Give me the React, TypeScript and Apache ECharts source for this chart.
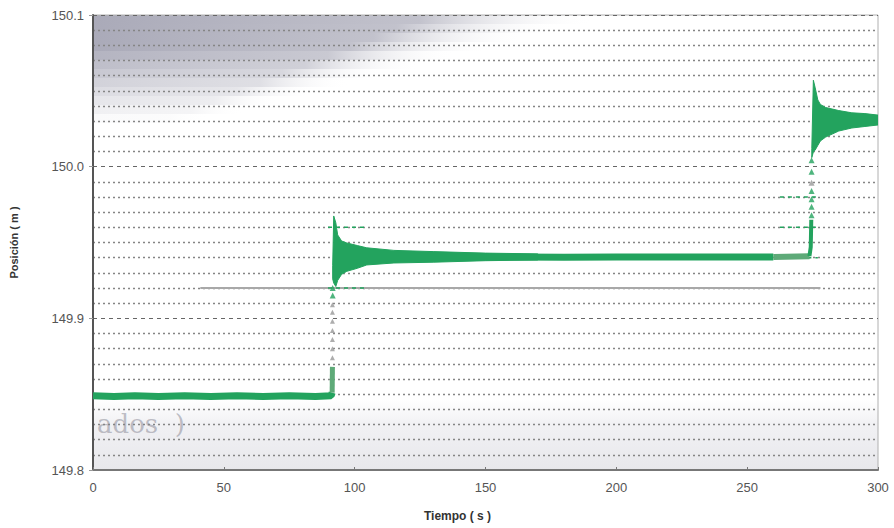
import React, { useEffect, useRef } from "react";
import * as echarts from "echarts";

// ---- data ----
const xTicks = [0, 50, 100, 150, 200, 250, 300];
const yTicks = [149.8, 149.9, 150.0, 150.1];

const level1: number[][] = [
  [0, 149.849], [8, 149.8485], [16, 149.849], [25, 149.8485], [35, 149.849], [45, 149.8485],
  [55, 149.849], [65, 149.8485], [75, 149.849], [85, 149.8485], [91, 149.849], [91.4, 149.851],
];
const rise1Solid: number[][] = [[91.4, 149.851], [91.5, 149.868]];
const rise1Dots: number[][] = [
  [91.5, 149.874], [91.5, 149.88], [91.5, 149.886], [91.5, 149.892], [91.5, 149.898], [91.5, 149.904], [91.5, 149.909],
];
const rise1Green: number[][] = [[91.6, 149.915], [91.6, 149.92]];
const band1Upper: number[][] = [
  [91.6, 149.935], [92, 149.9675], [92.8, 149.963], [93.5, 149.955], [95, 149.951], [97, 149.9497],
  [101, 149.948], [104.6, 149.9465], [115, 149.9448], [130, 149.944], [150, 149.943], [170, 149.9425],
];
const band1Lower: number[][] = [
  [91.6, 149.926], [92, 149.9233], [92.8, 149.921], [93.5, 149.925], [95, 149.929], [97, 149.931],
  [101, 149.933], [104.6, 149.9352], [115, 149.9365], [130, 149.937], [150, 149.938], [170, 149.9385],
];
const level2: number[][] = [
  [104.5, 149.9405], [120, 149.9405], [140, 149.9402], [160, 149.9405], [180, 149.9403],
  [200, 149.9405], [220, 149.9404], [240, 149.9405], [260, 149.9405],
];
const level2b: number[][] = [[260, 149.9405], [273.8, 149.941]];
const rise2Solid: number[][] = [[273.8, 149.941], [274.3, 149.947], [274.5, 149.965]];
const rise2Dots: number[][] = [
  [274.6, 149.968], [274.6, 149.9736], [274.6, 149.9785], [274.6, 149.984], [274.6, 149.9894],
  [274.6, 149.9967], [274.6, 150.0043],
];
const band2Upper: number[][] = [
  [274.7, 150.012], [275.3, 150.057], [276, 150.052], [277, 150.044], [278, 150.041], [280, 150.039],
  [285, 150.037], [290, 150.0355], [295, 150.035], [300, 150.034],
];
const band2Lower: number[][] = [
  [274.7, 150.006], [275.3, 150.0097], [276, 150.011], [277, 150.014], [278, 150.017], [280, 150.0195],
  [285, 150.0235], [290, 150.0255], [295, 150.0265], [300, 150.0275],
];
const refLine: number[][] = [[41, 149.92], [278, 149.92]];
const dashValues = [149.96, 149.92, 149.98, 149.96, 149.94];
const dashStart = [89.8, 89.8, 262.5, 262.5, 273];
const dashEnd = [105, 105, 277, 277, 277];

const GREEN = "#23a35e";
const GREEN_LIGHT = "#5eaa78";

// scan shading strips (decoration only)
const SHADE_STRIPS = 12;

export default function App() {
  const ref = useRef<HTMLDivElement>(null);
  useEffect(() => {
    if (!ref.current) return;
    const chart = echarts.init(ref.current, null, { renderer: "svg" });

    const bandSeries = (upper: number[][], lower: number[][]) => ({
      type: "custom",
      clip: true,
      z: 4,
      data: [upper[0]],
      renderItem: (_p: any, api: any) => {
        const pts = upper.map((p) => api.coord(p)).concat(lower.slice().reverse().map((p) => api.coord(p)));
        return { type: "polygon", shape: { points: pts }, style: { fill: GREEN, stroke: GREEN, lineWidth: 1 } };
      },
    });

    const lineSeries = (data: number[][], color: string, width: number, z = 3, type: any = "solid") => ({
      type: "line",
      data,
      symbol: "none",
      z,
      lineStyle: { color, width, type },
      clip: true,
    });

    const dashSeries = dashValues.map((v, i) =>
      lineSeries([[dashStart[i], v], [dashEnd[i], v]], GREEN, 1.5, 2, [4, 4])
    );

    const strips: any[] = [];
    for (let i = 0; i < SHADE_STRIPS; i++) {
      const w = 500 - i * 35;
      const a = i < 4 ? 0.85 : Math.max(0.04, 0.85 - (i - 3) * 0.1);
      strips.push({
        type: "rect",
        z: -10,
        silent: true,
        shape: { x: 94, y: 15 + i * 9, width: w, height: 9 },
        style: {
          fill: new echarts.graphic.LinearGradient(0, 0, 1, 0, [
            { offset: 0, color: `rgba(155,155,172,${a})` },
            { offset: 0.65, color: `rgba(165,165,180,${a * 0.8})` },
            { offset: 1, color: "rgba(255,255,255,0)" },
          ]),
        },
      });
    }

    chart.setOption({
      animation: false,
      backgroundColor: "#ffffff",
      grid: { left: 93, right: 16, top: 15, bottom: 58, show: true, borderColor: "#b0b0b0", borderWidth: 1 },
      graphic: [
        ...strips,
        {
          type: "rect",
          z: -10,
          silent: true,
          shape: { x: 94, y: 400, width: 784, height: 70 },
          style: {
            fill: new echarts.graphic.LinearGradient(0, 0, 0, 1, [
              { offset: 0, color: "rgba(215,215,222,0)" },
              { offset: 0.35, color: "rgba(214,214,222,0.35)" },
              { offset: 1, color: "rgba(208,208,216,0.5)" },
            ]),
          },
        },
        {
          type: "text",
          z: -5,
          silent: true,
          left: 97,
          top: 411,
          style: { text: "ados  )", fontSize: 26, fontFamily: "DejaVu Serif", fill: "rgba(140,140,152,0.55)" },
        },
        {
          type: "text",
          left: 424,
          top: 510,
          style: { text: "Tiempo ( s )", fontSize: 12, fontWeight: "bold", fontFamily: "Liberation Sans", fill: "#333" },
        },
      ],
      xAxis: {
        type: "value",
        min: 0,
        max: 300,
        interval: 50,
        axisLine: { lineStyle: { color: "#777", width: 2 } },
        axisTick: { inside: true, length: 3, lineStyle: { color: "#777" } },
        axisLabel: {
          color: "#555",
          fontSize: 13,
          fontFamily: "Liberation Sans",
          margin: 11,
          formatter: (v: number) => (xTicks.includes(v) ? String(v) : ""),
        },
        splitLine: { show: false },
      },
      yAxis: {
        type: "value",
        min: 149.8,
        max: 150.1,
        interval: 0.1,
        name: "Posición ( m )",
        nameLocation: "middle",
        nameGap: 74,
        nameTextStyle: { fontSize: 11, fontWeight: "bold", fontFamily: "Liberation Sans", color: "#333" },
        axisLine: { show: true, lineStyle: { color: "#555", width: 2 } },
        axisTick: { show: true, length: 4, lineStyle: { color: "#999" } },
        axisLabel: {
          color: "#555",
          fontSize: 13,
          fontFamily: "Liberation Sans",
          margin: 9,
          formatter: (v: number) => {
            const t = yTicks.find((y) => Math.abs(y - v) < 1e-6);
            return t === undefined ? "" : t.toFixed(1);
          },
        },
        splitLine: { show: true, lineStyle: { color: "#666", width: 1, type: [4, 4] } },
        minorTick: { show: false, splitNumber: 10 },
        minorSplitLine: { show: true, lineStyle: { color: "#858585", width: 1.3, type: [2, 3] } },
      },
      series: [
        lineSeries(refLine, "#a8a8a8", 2, 1),
        ...dashSeries,
        lineSeries(level1, GREEN, 7),
        lineSeries(rise1Solid, GREEN_LIGHT, 5),
        {
          type: "scatter",
          data: rise1Dots,
          symbol: "triangle",
          symbolSize: 5,
          itemStyle: { color: "#999" },
          z: 3,
        },
        {
          type: "scatter",
          data: rise1Green,
          symbol: "triangle",
          symbolSize: 6,
          itemStyle: { color: GREEN },
          z: 3,
        },
        bandSeries(band1Upper, band1Lower),
        lineSeries(level2, GREEN, 7),
        lineSeries(level2b, GREEN_LIGHT, 6),
        lineSeries(rise2Solid, GREEN, 4),
        {
          type: "scatter",
          data: rise2Dots,
          symbol: "triangle",
          symbolSize: 6,
          itemStyle: { color: (p: any) => (p.dataIndex === 4 ? "#999" : GREEN) },
          z: 3,
        },
        bandSeries(band2Upper, band2Lower),
      ],
    });
    return () => chart.dispose();
  }, []);
  return <div ref={ref} style={{ width: 894, height: 528, position: "absolute", left: 0, top: 0 }} />;
}
